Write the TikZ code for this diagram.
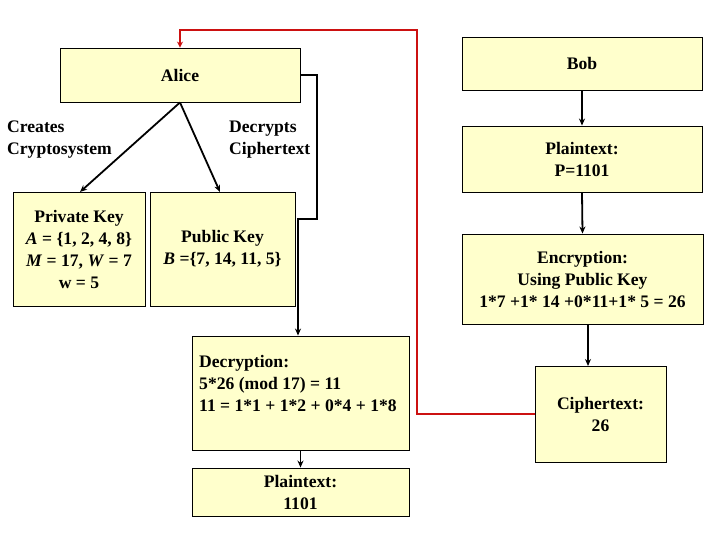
\documentclass[tikz,border=0pt]{standalone}
\usepackage{fontspec}
\setmainfont{Liberation Serif}
\usetikzlibrary{arrows.meta}
\definecolor{boxfill}{HTML}{FFFFCC}
\definecolor{redline}{HTML}{CC1111}
\begin{document}
\begin{tikzpicture}[x=1pt,y=-1pt,
  box/.style={draw=black, line width=0.9pt, fill=boxfill, inner sep=0pt, align=center,
    font=\fontsize{17.6}{22}\selectfont\bfseries},
  txt/.style={inner sep=0pt, align=left, font=\fontsize{17.6}{22}\selectfont\bfseries},
  arr/.style={line width=1.8pt, -{Stealth[length=7pt,width=6pt]}},
  redarr/.style={line width=1.8pt, draw=redline, -{Stealth[length=6pt,width=6pt]}}]
\useasboundingbox (0,0) rectangle (720,540);
\node[box, minimum width=240pt, minimum height=54pt] (alice) at (180,75) {Alice};
\node[box, minimum width=240pt, minimum height=53pt] (bob) at (582,63.5) {Bob};
\node[box, minimum width=240pt, minimum height=66pt] (plain1) at (582,159) {Plaintext:\\P=1101};
\node[box, minimum width=241pt, minimum height=90pt] (enc) at (582.5,279) {Encryption:\\Using Public Key\\1*7 +1* 14 +0*11+1* 5 = 26};
\node[box, minimum width=132pt, minimum height=114pt] (priv) at (79,249) {Private Key\\\textit{A} = \{1, 2, 4, 8\}\\\textit{M} = 17, \textit{W} = 7\\w = 5};
\node[box, minimum width=145pt, minimum height=114pt] (pub) at (222.5,249) {Public Key\\\textit{B} =\{7, 14, 11, 5\}};
\node[box, minimum width=217pt, minimum height=114pt] (dec) at (300.5,393) {};
\node[txt, anchor=west] (dect) at (199,383) {Decryption:\\5*26 (mod 17) = 11\\11 = 1*1 + 1*2 + 0*4 + 1*8};
\node[box, minimum width=217pt, minimum height=48pt] (plain2) at (300.5,492) {Plaintext:\\1101};
\node[box, minimum width=131pt, minimum height=96pt] (ciph) at (600.5,414) {Ciphertext:\\26};
\node[txt, anchor=west] (creates) at (7,140) {Creates\\Cryptosystem};
\node[txt, anchor=west] (decr) at (229,140) {Decrypts\\Ciphertext};
\coordinate (k1) at (317,219);
\coordinate (k2) at (298,219);
\coordinate (r1) at (417,30);
\draw[arr] (alice.south) -- (80,192);
\draw[arr] (alice.south) -- (220,192);
\draw[arr] (alice.east) -| (k1) -- (k2) -- (k2 |- dec.north);
\draw[arr] (bob.south) -- (plain1.north);
\draw[arr] (plain1.south) -- (enc.north);
\draw[arr] (588,324) -- (588,366);
\draw[arr] (dec.south) -- (plain2.north);
\draw[redarr] (ciph.west) -| (r1) -| (alice.north);
\end{tikzpicture}
\end{document}
